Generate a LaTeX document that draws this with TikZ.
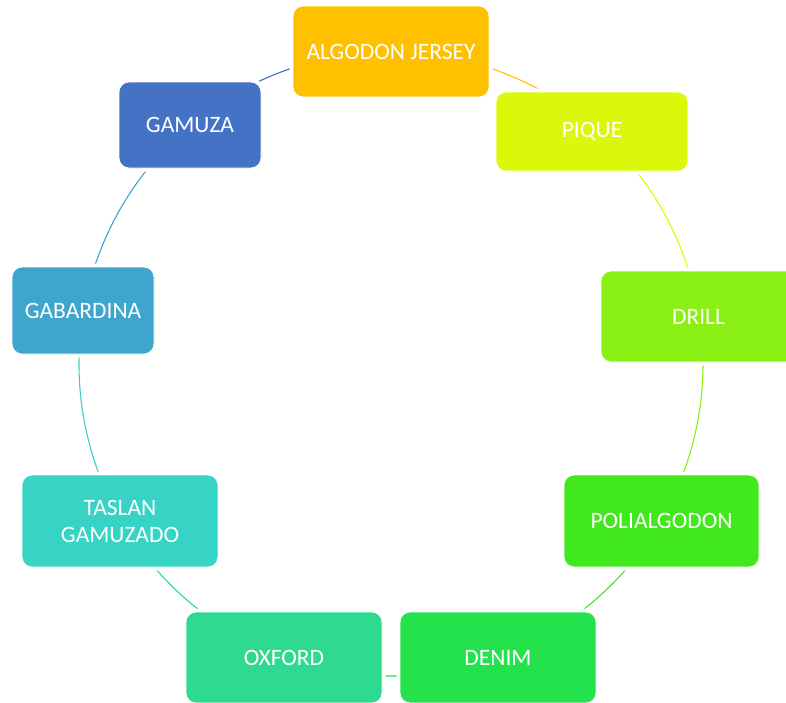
\documentclass[tikz,border=0pt]{standalone}
\usepackage{fontspec}
\setmainfont{Carlito}
\definecolor{calgo}{HTML}{FFC000}
\definecolor{cpique}{HTML}{DCF80A}
\definecolor{cdrill}{HTML}{8AF013}
\definecolor{cpoli}{HTML}{41E81E}
\definecolor{cdenim}{HTML}{24E24C}
\definecolor{coxford}{HTML}{2EDA8F}
\definecolor{ctaslan}{HTML}{37D4C5}
\definecolor{cgab}{HTML}{3EA6CD}
\definecolor{cgamuza}{HTML}{4472C4}
\begin{document}
\begin{tikzpicture}[x=1pt,y=1pt,
  box/.style={rounded corners=10pt, draw=white, line width=0.8pt, text=white,
    font=\fontsize{23.5}{27}\selectfont, inner sep=0pt, align=center,
    preaction={draw=white, line width=7pt}},
  ring/.style={line width=1.1pt}]
\useasboundingbox (0,0) rectangle (786,-702);
\clip (0,0) rectangle (786,-702);
\coordinate (C) at (391,-364);
% ring segments, each in the colour of the node it leaves
\draw[ring, calgo]   (C) ++(90:312)   arc[start angle=90,   end angle=50,   radius=312];
\draw[ring, cpique]  (C) ++(50:312)   arc[start angle=50,   end angle=10,   radius=312];
\draw[ring, cdrill]  (C) ++(10:312)   arc[start angle=10,   end angle=-30,  radius=312];
\draw[ring, cpoli]   (C) ++(-30:312)  arc[start angle=-30,  end angle=-70,  radius=312];
\draw[ring, cdenim]  (C) ++(-70:312)  arc[start angle=-70,  end angle=-110, radius=312];
\draw[ring, coxford] (C) ++(-110:312) arc[start angle=-110, end angle=-150, radius=312];
\draw[ring, ctaslan] (C) ++(-150:312) arc[start angle=-150, end angle=-190, radius=312];
\draw[ring, cgab]    (C) ++(-190:312) arc[start angle=-190, end angle=-230, radius=312];
\draw[ring, cgamuza] (C) ++(-230:312) arc[start angle=-230, end angle=-270, radius=312];
% nodes
\node[box, fill=calgo,   minimum width=196pt, minimum height=91pt] (algo)   at (391,-51.5)  {ALGODON JERSEY};
\node[box, fill=cpique,  minimum width=192pt, minimum height=79pt] (pique)  at (592,-131.5) {PIQUE};
\node[box, fill=cdrill,  minimum width=195pt, minimum height=91pt] (drill)  at (698.5,-316.5) {DRILL};
\node[box, fill=cpoli,   minimum width=195pt, minimum height=92pt] (poli)   at (661.5,-521) {POLIALGODON};
\node[box, fill=cdenim,  minimum width=196pt, minimum height=91pt] (denim)  at (498,-657.5) {DENIM};
\node[box, fill=coxford, minimum width=196pt, minimum height=91pt] (oxford) at (284,-657.5) {OXFORD};
\node[box, fill=ctaslan, minimum width=196pt, minimum height=92pt] (taslan) at (120,-521)   {TASLAN\\GAMUZADO};
\node[box, fill=cgab,    minimum width=142pt, minimum height=87pt] (gab)    at (83,-310.5)  {GABARDINA};
\node[box, fill=cgamuza, minimum width=142pt, minimum height=86pt] (gamuza) at (190,-125)   {GAMUZA};
\end{tikzpicture}
\end{document}
